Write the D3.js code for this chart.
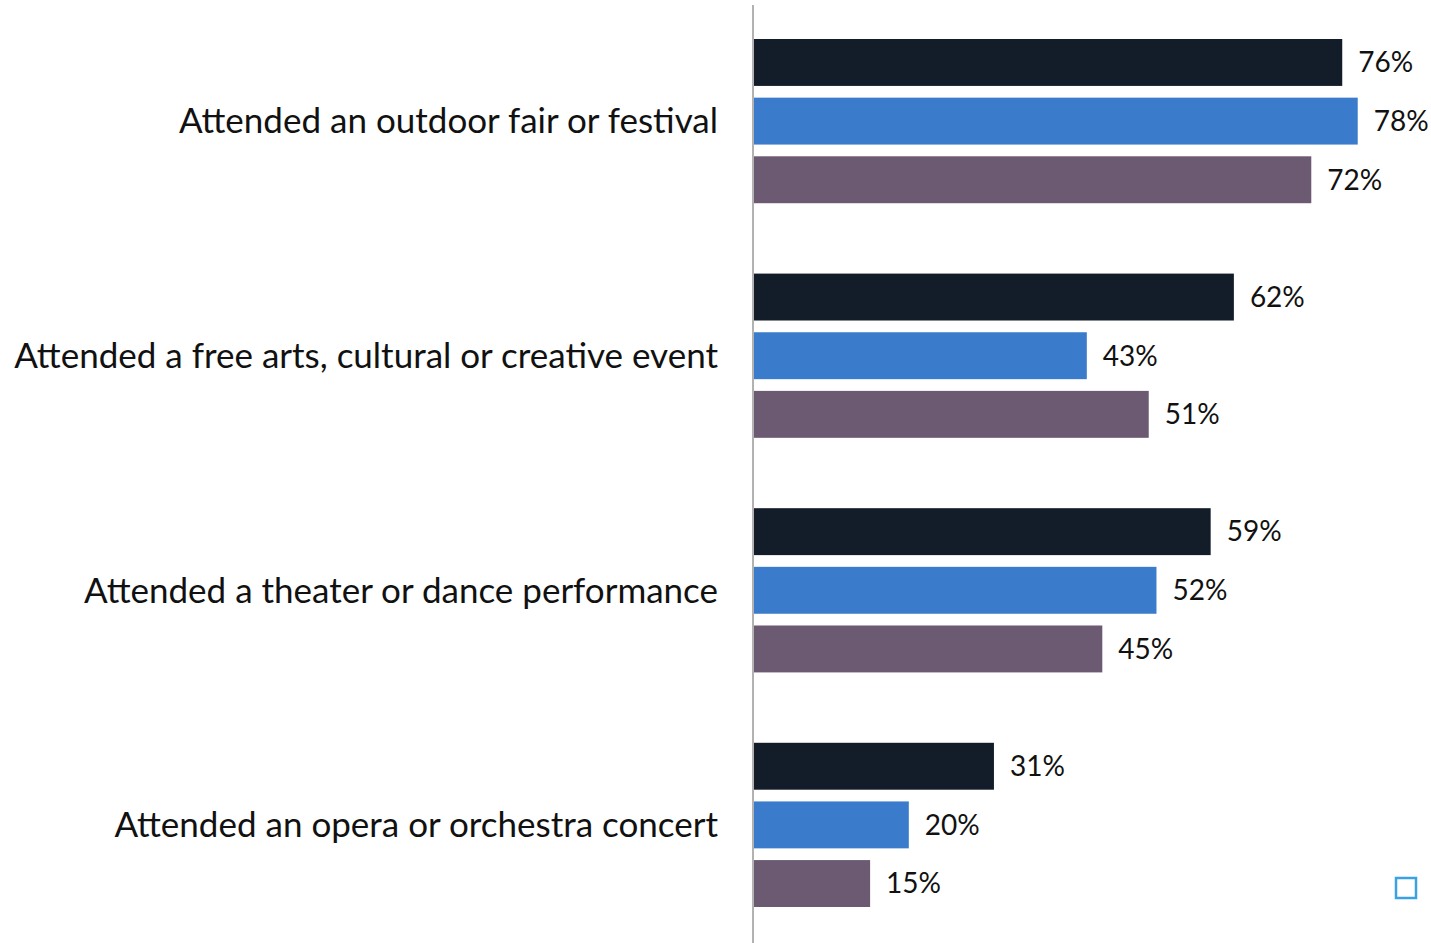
<!DOCTYPE html>
<html>
<head>
<meta charset="utf-8">
<script src="https://cdn.jsdelivr.net/npm/d3@7"></script>
<style>
  body { margin: 0; background: #fff; }
  svg { display: block; }
</style>
</head>
<body>
<svg id="chart"></svg>
<script>
const categories = [
  "Attended an outdoor fair or festival",
  "Attended a free arts, cultural or creative event",
  "Attended a theater or dance performance",
  "Attended an opera or orchestra concert"
];
const seriesNames = ["s1", "s2", "s3"];
const series1 = [76, 62, 59, 31];
const series2 = [78, 43, 52, 20];
const series3 = [72, 51, 45, 15];
const colors = ["#131d2a", "#3a7ccb", "#6b5a72"];

const width = 1431, height = 943;
const rows = categories.map((c, i) => ({
  cat: c,
  vals: [series1[i], series2[i], series3[i]]
}));

const svg = d3.select('#chart')
  .attr('width', width)
  .attr('height', height);

const x = d3.scaleLinear().domain([0, 100]).range([754, 754 + 774]);

const y0 = d3.scaleBand().domain(categories).range([39, 907])
  .paddingInner(0.3).paddingOuter(0);
const y1 = d3.scaleBand().domain(seriesNames).range([0, y0.bandwidth()])
  .paddingInner(0.2).paddingOuter(0);

const groups = svg.append('g').selectAll('g')
  .data(rows)
  .join('g')
  .attr('transform', d => `translate(0,${y0(d.cat)})`);

groups.selectAll('rect')
  .data(d => d.vals.map((v, i) => ({ v, s: seriesNames[i], i })))
  .join('rect')
  .attr('x', x(0))
  .attr('y', d => y1(d.s))
  .attr('width', d => x(d.v) - x(0))
  .attr('height', y1.bandwidth())
  .attr('fill', d => colors[d.i]);

groups.selectAll('text.val')
  .data(d => d.vals.map((v, i) => ({ v, s: seriesNames[i], i })))
  .join('text')
  .attr('class', 'val')
  .attr('x', d => x(d.v) + 16)
  .attr('y', d => y1(d.s) + y1.bandwidth() / 2)
  .attr('dy', '0.35em')
  .attr('font-family', 'Lato, sans-serif')
  .attr('font-size', '28px')
  .attr('fill', '#111')
  .text(d => d.v + '%');

// category labels
svg.append('g').selectAll('text')
  .data(categories)
  .join('text')
  .attr('x', 718)
  .attr('y', d => y0(d) + y0.bandwidth() / 2)
  .attr('dy', '0.35em')
  .attr('text-anchor', 'end')
  .attr('font-family', 'Lato, sans-serif')
  .attr('font-size', '35px')
  .attr('fill', '#111')
  .text(d => d);

// vertical axis line
svg.append('line')
  .attr('x1', x(0) - 1).attr('x2', x(0) - 1)
  .attr('y1', 5).attr('y2', height)
  .attr('stroke', '#999')
  .attr('stroke-width', 1.5);

// small square marker bottom right
svg.append('rect')
  .attr('x', 1396).attr('y', 878)
  .attr('width', 20).attr('height', 20)
  .attr('fill', 'none')
  .attr('stroke', '#3aa2e2')
  .attr('stroke-width', 2.5);
</script>
</body>
</html>
